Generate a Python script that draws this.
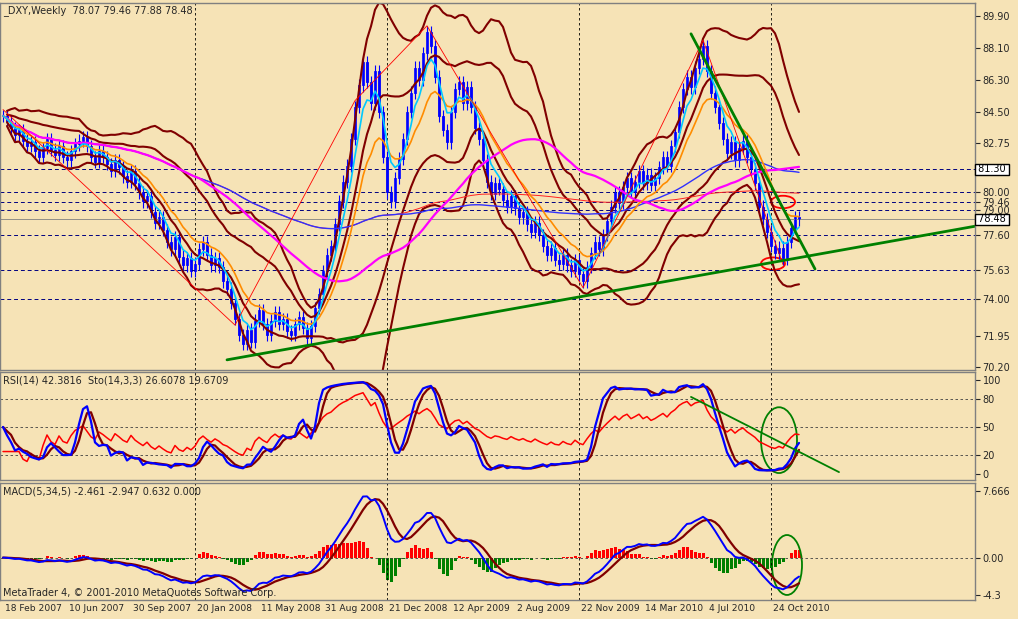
import numpy as np, pandas as pd, matplotlib
matplotlib.use("Agg")
import matplotlib.pyplot as plt, seaborn as sns
from matplotlib.patches import Ellipse

closes = [84.3,84.0,83.6,83.2,83.5,82.9,82.6,82.8,82.3,82.0,82.5,83.0,82.4,82.1,82.6,82.0,81.8,82.3,82.7,82.9,83.1,82.6,82.0,81.7,82.3,
 82.0,81.6,81.2,81.8,81.4,80.9,80.6,81.2,80.5,80.0,79.5,79.8,78.9,78.3,78.6,
 77.9,77.2,76.8,77.5,76.4,75.9,76.3,75.6,76.0,76.8,77.2,76.5,75.9,76.3,75.8,75.0,74.6,73.8,72.9,72.0,
 71.5,72.3,71.6,72.8,73.4,72.6,72.0,72.8,73.3,72.6,72.9,72.2,72.0,72.6,73.0,72.4,71.8,72.5,73.5,74.3,
 75.6,76.5,77.0,78.2,79.5,80.6,81.5,83.0,84.8,86.0,87.3,86.2,85.0,86.8,84.5,82.0,80.0,79.5,80.8,81.9,
 83.0,84.5,85.6,87.0,86.3,87.8,89.0,88.2,86.5,84.3,83.5,82.8,84.5,85.8,86.2,85.0,85.9,84.8,83.6,83.0,
 81.8,80.6,79.9,80.5,80.2,79.6,79.2,79.8,79.1,78.6,78.9,78.2,77.8,78.3,77.6,77.0,76.5,76.9,76.2,76.0,
 76.5,75.9,75.6,76.2,75.4,75.0,75.8,76.6,77.2,76.8,77.6,78.4,79.2,80.0,79.4,80.3,80.8,80.1,80.6,81.2,
 80.5,81.0,80.4,80.8,81.4,82.0,81.5,82.6,83.4,84.8,85.8,86.5,85.9,87.0,87.5,88.2,86.8,85.6,84.8,83.9,
 83.0,82.2,82.8,81.8,82.5,82.9,82.0,81.3,80.5,79.2,78.5,77.8,77.0,76.6,76.9,76.3,77.2,78.0,78.6,78.48]
date_labels = ["18 Feb 2007","10 Jun 2007","30 Sep 2007","20 Jan 2008","11 May 2008","31 Aug 2008",
               "21 Dec 2008","12 Apr 2009","2 Aug 2009","22 Nov 2009","14 Mar 2010","4 Jul 2010","24 Oct 2010"]
h_levels = [81.30, 80.00, 79.46, 79.00, 77.60, 75.63, 74.00]
price_ticks = [89.90, 88.10, 86.30, 84.50, 82.75, 80.00, 79.46, 79.00, 77.60, 75.63, 74.00, 71.95, 70.20]
boxed_ticks = [81.30, 78.48]
zig_idx = [0, 58, 88, 106, 145, 175, 195]
trend1_x, trend1_y = [56, 243], [70.6, 78.1]
trend2_x, trend2_y = [172, 203], [88.9, 75.7]
rsi_trend_x, rsi_trend_y = [172, 209], [82, 2]

BG = '#F6E3B6'
sns.set_style("white")
plt.rcParams['font.family'] = ['DejaVu Sans']

c = pd.Series(closes)
n = len(c); w = np.arange(n)
o = c.shift(1).fillna(c.iloc[0])
hi = np.maximum(o, c) + 0.35; lo = np.minimum(o, c) - 0.35
df = pd.DataFrame({'w': w, 'c': c})

fig = plt.figure(figsize=(10.18, 6.19), dpi=100, facecolor=BG)
W, H = 1018, 619
def mk(top, bot):
    ax = fig.add_axes([0, 1 - bot / H, 975 / W, (bot - top) / H], facecolor=BG)
    ax.set_xlim(-0.75, 243)
    for s in ax.spines.values(): s.set_color('#808080'); s.set_linewidth(1)
    ax.tick_params(left=False, bottom=False, labelbottom=False, right=False, labelleft=False,
                   labelright=True, labelsize=7, pad=2)
    ax.yaxis.tick_right()
    return ax
ax1 = mk(3, 370); ax2 = mk(372, 480); ax3 = mk(483, 600)
ax1.set_ylim(70.03, 90.63); ax2.set_ylim(-6.4, 108.5); ax3.set_ylim(-4.88, 8.59)
ticks_w = np.arange(len(date_labels)) * 16
for ax in (ax1, ax2, ax3):
    for t in ticks_w[3::3]:
        ax.axvline(t, color='black', ls=(0, (3, 3)), lw=0.6)

# price panel
for lv in h_levels:
    ax1.axhline(lv, color='#000080', ls=(0, (4, 3)), lw=0.7)
ax1.axhline(78.48, color='#808080', lw=0.6)
ax1.set_yticks(price_ticks); ax1.set_yticklabels([f"{v:.2f}" for v in price_ticks])
ax1.vlines(w, lo, hi, color='#0000FF', lw=0.8)
up = c >= o
ax1.bar(w[up], (c - o)[up], bottom=o[up], width=0.7, color='white', edgecolor='#0000FF', lw=0.6)
ax1.bar(w[~up], (o - c)[~up], bottom=c[~up], width=0.7, color='#0000FF', edgecolor='#0000FF', lw=0.6)
df['e5'] = c.ewm(span=5).mean(); df['e13'] = c.ewm(span=13).mean()
df['s50'] = c.rolling(50, min_periods=1).mean(); df['s100'] = c.rolling(100, min_periods=1).mean()
df['s200'] = c.rolling(200, min_periods=1).mean()
m20 = c.rolling(20, min_periods=2).mean(); sd20 = c.rolling(20, min_periods=2).std()
df['bu'] = m20 + 2 * sd20; df['bl'] = m20 - 2 * sd20
df['bu2'] = m20 + 1 * sd20; df['bl2'] = m20 - 1 * sd20
for col, colr, lw in [('bu2', '#800000', 1.5), ('bl2', '#800000', 1.5), ('bu', '#800000', 1.5),
                      ('bl', '#800000', 1.5), ('s200', '#FF2020', 0.7),
                      ('s100', '#3030FF', 1.0), ('s50', '#FF00FF', 1.6), ('e13', '#FF8C00', 1.2),
                      ('e5', '#00C8FF', 1.2)]:
    sns.lineplot(data=df, x='w', y=col, ax=ax1, color=colr, lw=lw, legend=False)
zx = zig_idx
zy = [hi[zx[0]], lo[zx[1]], hi[zx[2]], hi[zx[3]], lo[zx[4]], hi[zx[5]], lo[zx[6]]]
ax1.plot(zx, zy, color='#FF0000', lw=0.6)
ax1.plot(trend1_x, trend1_y, color='#008000', lw=2)
ax1.plot(trend2_x, trend2_y, color='#008000', lw=2)
ax1.add_patch(Ellipse((195, 79.46), 6, 0.7, fill=False, ec='red', lw=1.3))
ax1.add_patch(Ellipse((192.5, 76.0), 6, 0.7, fill=False, ec='red', lw=1.3))
ax1.set_xlabel(''); ax1.set_ylabel('')
ax1.text(0.003, 0.995, "_DXY,Weekly  78.07 79.46 77.88 78.48", transform=ax1.transAxes, va='top', fontsize=7)
for bv in boxed_ticks:
    ax1.text(1.0, bv, f" {bv:.2f} ", transform=ax1.get_yaxis_transform(), fontsize=7, va='center', ha='left',
             color='black', bbox=dict(fc='white', ec='black', pad=0.3))

# RSI/Stoch
d = c.diff().fillna(0)
ag = d.clip(lower=0).ewm(alpha=1/14).mean(); al = (-d.clip(upper=0)).ewm(alpha=1/14).mean()
rsi = 100 - 100 / (1 + ag / al.replace(0, np.nan))
rsi.iloc[:4] = np.nan
df['rsi'] = rsi.bfill()
ll = pd.Series(lo).rolling(14, min_periods=1).min(); hh = pd.Series(hi).rolling(14, min_periods=1).max()
k = (c - ll).rolling(3, min_periods=1).sum() / (hh - ll).rolling(3, min_periods=1).sum() * 100
df['k'] = k; df['dd'] = k.rolling(3, min_periods=1).mean()
for lv in (80, 50, 20):
    ax2.axhline(lv, color='#404040', ls=(0, (3, 3)), lw=0.6)
sns.lineplot(data=df, x='w', y='rsi', ax=ax2, color='#FF0000', lw=1.1)
sns.lineplot(data=df, x='w', y='dd', ax=ax2, color='#800000', lw=1.6)
sns.lineplot(data=df, x='w', y='k', ax=ax2, color='#0000FF', lw=1.6)
ax2.plot(rsi_trend_x, rsi_trend_y, color='#008000', lw=1.3)
ax2.add_patch(Ellipse((194, 36), 9, 70, fill=False, ec='#008000', lw=1.3))
ax2.set_yticks([100, 80, 50, 20, 0]); ax2.set_xlabel(''); ax2.set_ylabel('')
ax2.text(0.003, 0.97, "RSI(14) 42.3816  Sto(14,3,3) 26.6078 19.6709", transform=ax2.transAxes, va='top', fontsize=7)

# MACD
df['macd'] = c.ewm(span=5).mean() - c.ewm(span=34).mean()
df['sig'] = df['macd'].rolling(5, min_periods=1).mean()
hist = (df['macd'] - df['sig']) * 1.2
ax3.axhline(0, color='#404040', ls=(0, (3, 3)), lw=0.6)
ax3.bar(w, hist, width=0.75, color=np.where(hist >= 0, '#FF0000', '#008000'), edgecolor='none', lw=0)
sns.lineplot(data=df, x='w', y='sig', ax=ax3, color='#800000', lw=1.6)
sns.lineplot(data=df, x='w', y='macd', ax=ax3, color='#0000FF', lw=1.4)
ax3.add_patch(Ellipse((196, -0.85), 7.5, 6.9, fill=False, ec='#008000', lw=1.3))
ax3.set_yticks([7.666, 0.0, -4.3]); ax3.set_yticklabels(["7.666", "0.00", "-4.3"])
ax3.set_xlabel(''); ax3.set_ylabel('')
ax3.text(0.003, 0.97, "MACD(5,34,5) -2.461 -2.947 0.632 0.000", transform=ax3.transAxes, va='top', fontsize=7)
ax3.text(0.003, 0.03, "MetaTrader 4, © 2001-2010 MetaQuotes Software Corp.", transform=ax3.transAxes, fontsize=7)
for t, lab in zip(ticks_w, date_labels):
    ax3.text(t + 0.5, -0.035, lab, transform=ax3.get_xaxis_transform(), fontsize=6.6, va='top', ha='left')

fig.savefig("out.png", dpi=100, facecolor=BG)
